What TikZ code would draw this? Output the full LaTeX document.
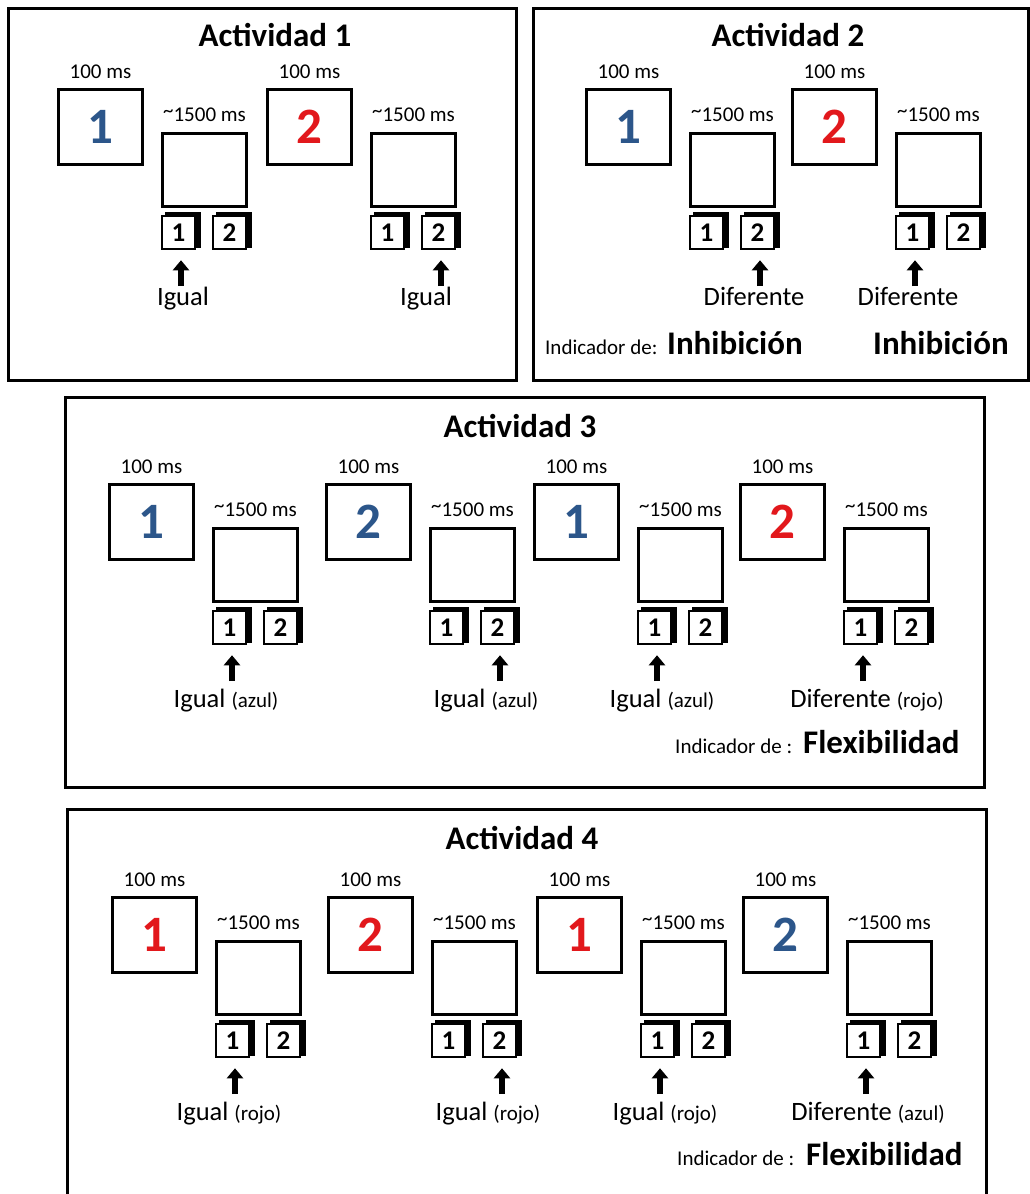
\documentclass[tikz,border=0pt]{standalone}
\usepackage{fontspec}
\setmainfont{Carlito}
\usetikzlibrary{arrows.meta}
\definecolor{stblue}{RGB}{44,86,138}
\definecolor{stred}{RGB}{226,24,28}
\tikzset{
  panel/.style={draw, line width=3pt},
  stim/.style={draw, line width=3pt, minimum width=84pt, minimum height=75pt, inner sep=0pt, font=\fontsize{51}{53}\selectfont\bfseries},
  blankbox/.style={draw, line width=3pt, minimum width=84pt, minimum height=73pt, inner sep=0pt},
  dur/.style={anchor=base, inner sep=0pt, font=\fontsize{21}{24}\selectfont},
  keyfront/.style={draw, fill=white, line width=2.5pt, minimum width=33pt, minimum height=33pt, inner sep=0pt, font=\fontsize{27}{29}\selectfont\bfseries},
  resp/.style={line width=6pt, -{Triangle[width=16pt,length=10pt]}},
  lab/.style={anchor=base, inner sep=0pt, font=\fontsize{26.5}{28}\selectfont},
  title/.style={anchor=base, inner sep=0pt, font=\fontsize{33}{36}\selectfont\bfseries},
  ind/.style={anchor=base west, inner sep=0pt, font=\fontsize{21}{24}\selectfont},
  big/.style={anchor=base west, inner sep=0pt, font=\fontsize{33}{36}\selectfont\bfseries},
}
\newcommand{\smallpart}[1]{{\fontsize{21}{24}\selectfont #1}}
\newcommand{\Key}[4]{%
  \fill ({#2+4},{#3}) rectangle ({#2+40},{#3+36});
  \node[keyfront] (#1) at ({#2+17.5},{#3+20.5}) {#4};
}
\def\labbase{217}
\newcommand{\Trial}[8]{%
  \node[stim] (#1s) at ({#2+43.5},{#3+39}) {\textcolor{#5}{#4}};
  \node[dur] (#1d) at ({#2+43.5},{#3-10}) {100 ms};
  \node[blankbox] (#1b) at ({#2+147.5},{#3+82}) {};
  \node[dur] (#1e) at ({#2+147.5},{#3+33}) {\raisebox{4pt}{\textasciitilde}1500 ms};
  \Key{#1k1}{#2+104}{#3+124}{1}
  \Key{#1k2}{#2+155}{#3+124}{2}
  \node[lab] (#1l) at (#7,{#3+\labbase}) {#8};
  \coordinate (#1a) at ({#2+124+51*(#6-1)},{#3+198});
  \draw[resp, shorten >=10pt] (#1a) -- (#1a |- #1k#6.south);
}
\begin{document}
\begin{tikzpicture}[x=1pt,y=-1pt]
\useasboundingbox (0,0) rectangle (1030,1194);
\fill[white] (0,0) rectangle (1030,1194);
\clip (0,0) rectangle (1030,1194);
% panels
\draw[panel] (8,8) rectangle (516,380);
\draw[panel] (533,8) rectangle (1028.5,380);
\draw[panel] (65,397) rectangle (984,787);
\draw[panel] (67,809) rectangle (986,1210);
% titles
\node[title] (t1) at (275,46) {Actividad 1};
\node[title] (t2) at (788,46) {Actividad 2};
\node[title] (t3) at (520,437) {Actividad 3};
\node[title] (t4) at (522,849) {Actividad 4};
% panel 1
\Trial{pa}{57}{88}{1}{stblue}{1}{183}{Igual}
\Trial{pb}{266}{88}{2}{stred}{2}{426}{Igual}
% panel 2
\Trial{qa}{585}{88}{1}{stblue}{2}{754}{Diferente}
\Trial{qb}{791}{88}{2}{stred}{1}{908}{Diferente}
\node[ind] (i2) at (545,354) {Indicador de:};
\node[big] (h2a) at (667,354) {Inhibición};
\node[big] (h2b) at (873,354) {Inhibición};
% panel 3
\def\labbase{224}
\Trial{ra}{108}{483}{1}{stblue}{1}{226}{Igual \smallpart{(azul)}}
\Trial{rb}{325}{483}{2}{stblue}{2}{486}{Igual \smallpart{(azul)}}
\Trial{rc}{533}{483}{1}{stblue}{1}{662}{Igual \smallpart{(azul)}}
\Trial{rd}{739}{483}{2}{stred}{1}{867}{Diferente \smallpart{(rojo)}}
\node[ind] (i3) at (675,753) {Indicador de :};
\node[big] (f3) at (803,753) {Flexibilidad};
% panel 4
\Trial{sa}{111}{896}{1}{stred}{1}{229}{Igual \smallpart{(rojo)}}
\Trial{sb}{327}{896}{2}{stred}{2}{488}{Igual \smallpart{(rojo)}}
\Trial{sc}{536}{896}{1}{stred}{1}{665}{Igual \smallpart{(rojo)}}
\Trial{sd}{742}{896}{2}{stblue}{1}{868}{Diferente \smallpart{(azul)}}
\node[ind] (i4) at (677,1165) {Indicador de :};
\node[big] (f4) at (806,1165) {Flexibilidad};
\end{tikzpicture}
\end{document}
